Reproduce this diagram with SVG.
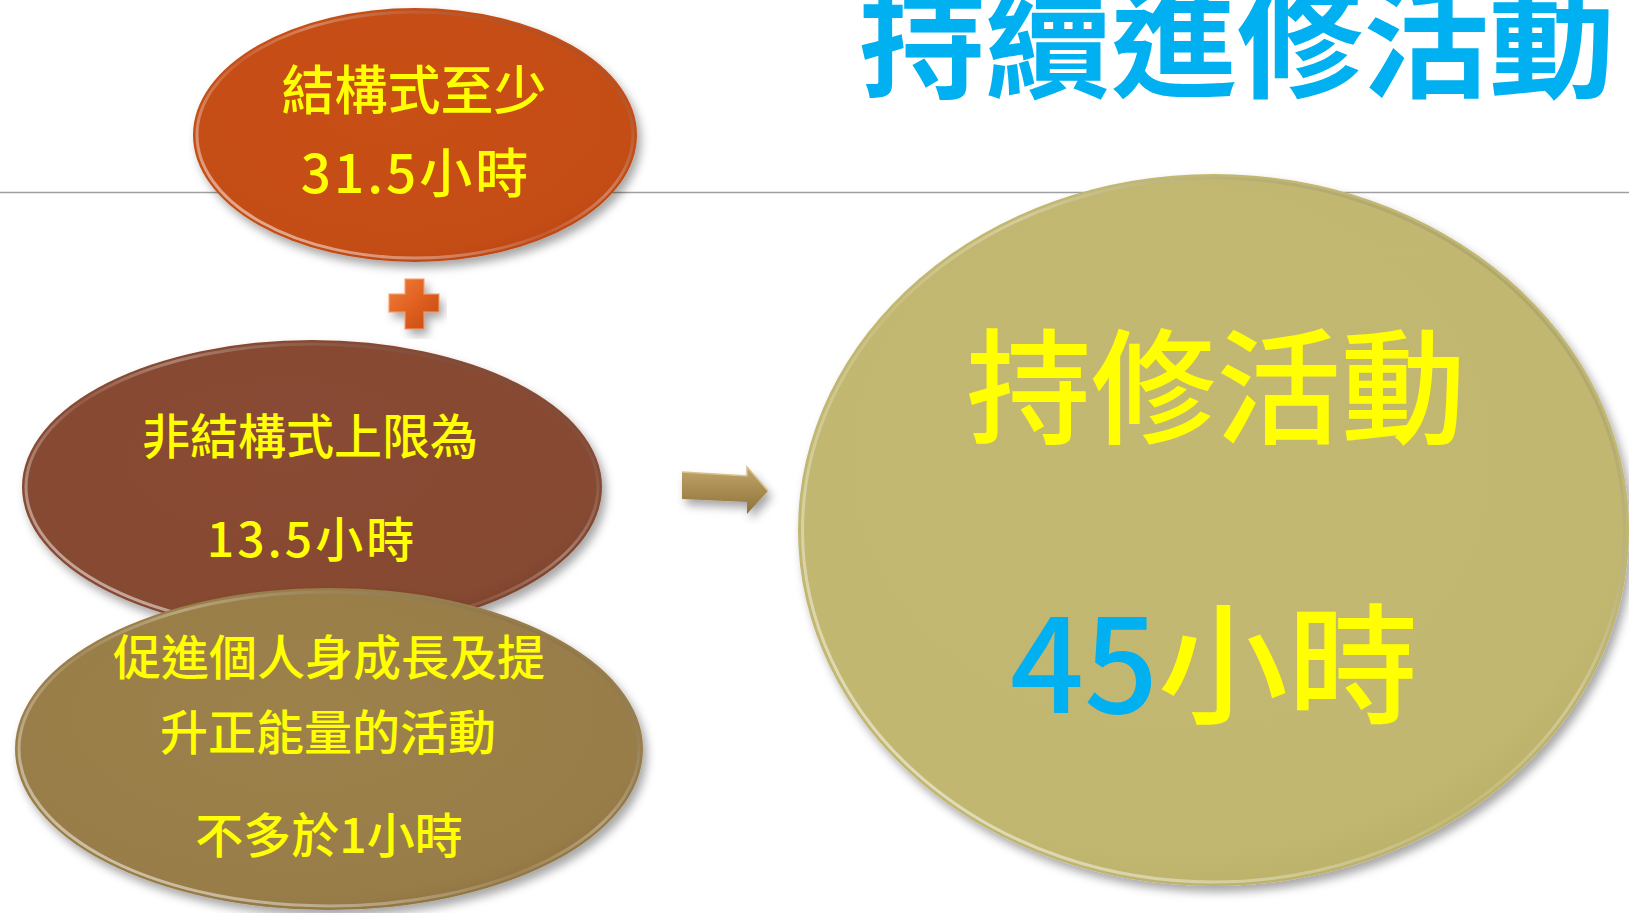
<svg xmlns="http://www.w3.org/2000/svg" width="1629" height="913" viewBox="0 0 1629 913">
<style>
.t{font-family:"Noto Sans CJK TC","Noto Sans CJK SC",sans-serif;text-anchor:middle;fill:#FFFF00;font-weight:500}
.title{font-family:"Noto Sans CJK TC","Noto Sans CJK SC",sans-serif;font-weight:bold;fill:#00B0F0;text-anchor:middle}
.blue{fill:#00B0F0}
.rim{fill:none;stroke-width:3}
.wide{letter-spacing:3px}
</style>
<defs>
<filter id="sh" x="-10%" y="-10%" width="125%" height="130%">
<feDropShadow dx="4" dy="6" stdDeviation="5" flood-color="#000" flood-opacity="0.35"/>
</filter>
<radialGradient id="g1" cx="0.45" cy="0.4" r="0.65">
<stop offset="0" stop-color="#C84F18"/><stop offset="0.85" stop-color="#C44D16"/><stop offset="1" stop-color="#B94512"/>
</radialGradient>
<radialGradient id="g2" cx="0.45" cy="0.4" r="0.65">
<stop offset="0" stop-color="#8A4B34"/><stop offset="0.85" stop-color="#864932"/><stop offset="1" stop-color="#7A4029"/>
</radialGradient>
<radialGradient id="g3" cx="0.45" cy="0.4" r="0.65">
<stop offset="0" stop-color="#9D814C"/><stop offset="0.85" stop-color="#997D48"/><stop offset="1" stop-color="#8E7240"/>
</radialGradient>
<radialGradient id="g4" cx="0.45" cy="0.4" r="0.65">
<stop offset="0" stop-color="#C2B872"/><stop offset="0.85" stop-color="#C1B770"/><stop offset="1" stop-color="#B8AE66"/>
</radialGradient>
<linearGradient id="rimg" x1="0" y1="1" x2="1" y2="0">
<stop offset="0" stop-color="#FFFFFF" stop-opacity="0.7"/><stop offset="0.45" stop-color="#FFFFFF" stop-opacity="0.1"/><stop offset="0.6" stop-color="#FFFFFF" stop-opacity="0.3"/><stop offset="1" stop-color="#000000" stop-opacity="0.1"/>
</linearGradient>
<linearGradient id="ga" x1="0" y1="0" x2="0" y2="1">
<stop offset="0" stop-color="#C2A56A"/><stop offset="0.5" stop-color="#A88B50"/><stop offset="1" stop-color="#8E7240"/>
</linearGradient>
<linearGradient id="gp" x1="0" y1="0" x2="1" y2="1">
<stop offset="0" stop-color="#F08040"/><stop offset="0.5" stop-color="#E0601F"/><stop offset="1" stop-color="#C04A12"/>
</linearGradient>
</defs>
<rect width="1629" height="913" fill="#FFFFFF"/>
<line x1="0" y1="192.5" x2="1629" y2="192.5" stroke="#A0A0A0" stroke-width="1.5"/>
<text class="title" x="1237" y="88" font-size="126">持續進修活動</text>

<g id="node-structured">
<ellipse cx="415" cy="135" rx="222" ry="127" fill="url(#g1)" filter="url(#sh)"/>
<ellipse class="rim" cx="415" cy="135" rx="218" ry="123" stroke="url(#rimg)"/>
<text class="t" x="414" y="110" font-size="53">結構式至少</text>
<text class="t wide" x="416" y="193" font-size="53">31.5小時</text>
</g>

<g id="plus">
<path d="M405,279 H424 V294 H439 V312 H424 V329 H405 V312 H389 V294 H405 Z" fill="url(#gp)" filter="url(#sh)"/>
<path d="M405,279 H424 V294 H439 V312 H424 V329 H405 V312 H389 V294 H405 Z" fill="none" stroke="#F8A070" stroke-width="1.5" stroke-opacity="0.7"/>
</g>

<g id="node-unstructured">
<ellipse cx="312" cy="487" rx="290" ry="147" fill="url(#g2)" filter="url(#sh)"/>
<ellipse class="rim" cx="312" cy="487" rx="286" ry="143" stroke="url(#rimg)"/>
<text class="t" x="310" y="454" font-size="48">非結構式上限為</text>
<text class="t wide" x="312" y="557" font-size="48">13.5小時</text>
</g>

<g id="node-personal">
<ellipse cx="329" cy="749" rx="314" ry="161" fill="url(#g3)" filter="url(#sh)"/>
<ellipse class="rim" cx="329" cy="749" rx="310" ry="157" stroke="url(#rimg)"/>
<text class="t" x="329" y="675" font-size="48">促進個人身成長及提</text>
<text class="t" x="328" y="750" font-size="48">升正能量的活動</text>
<text class="t" x="329" y="853" font-size="48">不多於1小時</text>
</g>

<g id="connectors">
<path d="M682,472 L747,476 L747,467 L768,491 L747,514 L747,502 L682,499 Z" fill="url(#ga)" filter="url(#sh)"/>
<path d="M682,472 L747,476 L747,467 L768,491" fill="none" stroke="#D8C08A" stroke-width="1.5"/>
</g>

<g id="node-total">
<ellipse cx="1213.5" cy="530" rx="415.5" ry="356" fill="url(#g4)" filter="url(#sh)"/>
<ellipse class="rim" cx="1213.5" cy="530" rx="411" ry="352" stroke="url(#rimg)"/>
<text class="t" x="1216" y="434" font-size="125">持修活動</text>
<text class="t" x="1214" y="713" font-size="130"><tspan class="blue">45</tspan>小時</text>
</g>
</svg>
